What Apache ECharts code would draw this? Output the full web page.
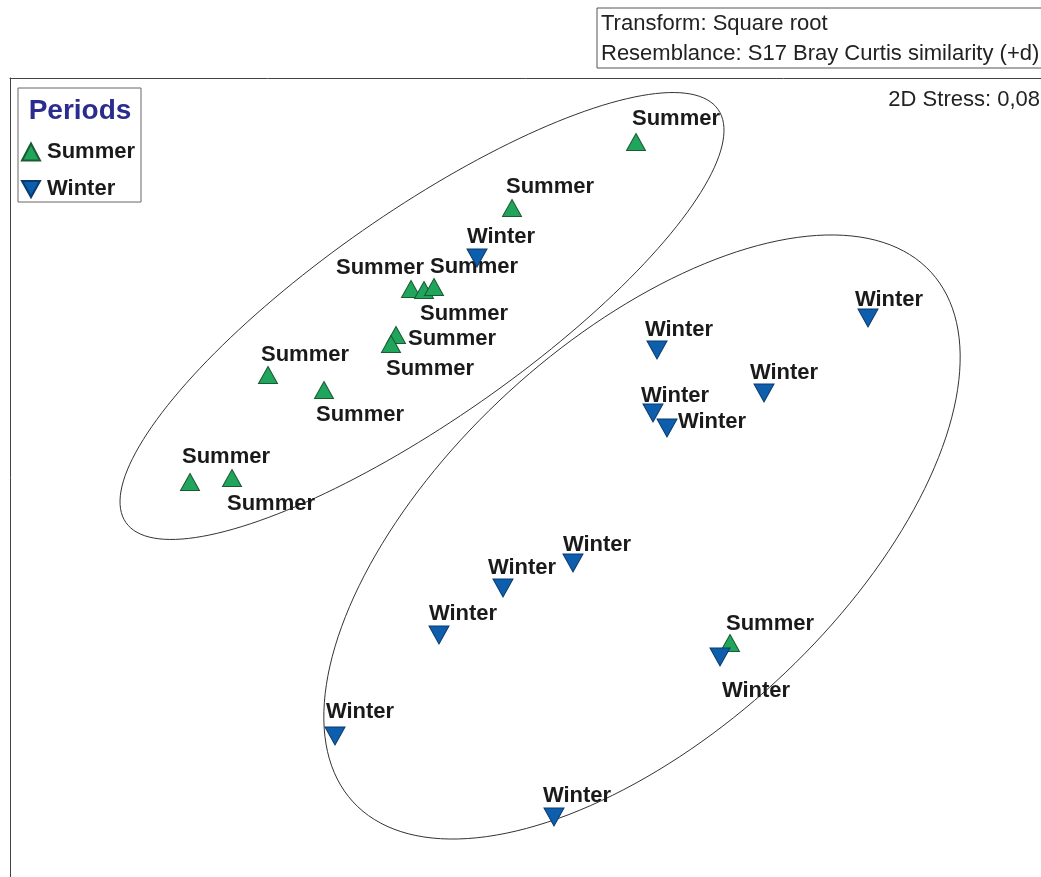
<!DOCTYPE html>
<html>
<head>
<meta charset="utf-8">
<title>nMDS Periods</title>
<script src="https://cdn.jsdelivr.net/npm/echarts@6/dist/echarts.min.js"></script>
<style>
  html, body { margin: 0; padding: 0; background: #fff; }
  #chart { width: 1041px; height: 877px; }
</style>
</head>
<body>
<div id="chart"></div>
<script>
// nMDS ordination coordinates
const summerX = [1.06, -0.18, -1.19, -1.06, -0.96, -1.34, -1.39, -2.62, -2.06, -3.40, -2.98, 2.00];
const summerY = [3.86, 3.20, 2.39, 2.38, 2.41, 1.93, 1.84, 1.53, 1.38, 0.46, 0.50, -1.15];
const winterX = [-0.53, 3.38, 1.27, 2.34, 1.23, 1.37, 0.43, -0.27, -0.91, 1.90, -1.95, 0.24];
const winterY = [2.70, 2.10, 1.78, 1.35, 1.15, 1.00, -0.35, -0.60, -1.07, -1.29, -2.08, -2.89];

// group outlines: centre, semi axes, rotation (deg)
const ellipseCenters = [[-1.08, 2.12], [1.12, -0.09]];
const ellipseAxes = [[3.61, 1.04], [3.92, 1.97]];
const ellipseAngles = [34.9, 42.5];

const periods = ['Summer', 'Winter'];

// where each sample label sits relative to its marker (px)
const summerLabelShift = [[40, -23], [38, -21], [-31, -21], [40, 24], [40, -20], [56, 4], [39, 25], [37, -20], [36, 25], [36, -25], [39, 26], [40, -19]];
const winterLabelShift = [[24, -21], [21, -18], [22, -20], [20, -20], [22, -17], [45, -6], [24, -18], [19, -20], [24, -21], [36, 34], [25, -24], [23, -21]];

const FONT = '"Liberation Sans", Arial, sans-serif';
const downTri = 'path://M0,0L20,0L10,18Z';

const chart = echarts.init(document.getElementById('chart'));

const pointData = (xs, ys, shifts) => xs.map((x, i) => ({
  value: [x, ys[i]],
  label: { offset: shifts[i] }
}));

const sampleLabel = (name) => ({
  show: true,
  position: 'inside',
  formatter: name,
  fontFamily: FONT,
  fontWeight: 'bold',
  fontSize: 22,
  color: '#1a1a1a'
});

// only the left and top edges of the frame are inside the picture
const frameAxis = {
  type: 'value',
  axisLine: { show: true, onZero: false, lineStyle: { color: '#444', width: 1 } },
  axisTick: { show: false },
  axisLabel: { show: false },
  splitLine: { show: false }
};

const option = {
  backgroundColor: '#fff',
  animation: false,
  grid: {
    left: 10,
    top: 78,
    right: 0,
    bottom: 0
  },
  xAxis: Object.assign({ position: 'top', min: -5.2, max: 5.11 }, frameAxis),
  yAxis: Object.assign({ position: 'left', min: -3.49, max: 4.5 }, frameAxis),
  legend: {
    orient: 'vertical',
    left: 21,
    top: 141,
    itemWidth: 18,
    itemHeight: 17,
    itemGap: 15,
    padding: 0,
    selectedMode: false,
    data: periods,
    textStyle: { fontFamily: FONT, fontWeight: 'bold', fontSize: 22, color: '#1a1a1a', padding: [0, 0, 0, 2] }
  },
  graphic: [
    {
      type: 'rect',
      shape: { x: 597, y: 8, width: 460, height: 60 },
      style: { fill: '#fff', stroke: '#555', lineWidth: 1 }
    },
    {
      type: 'text',
      x: 601, y: 24,
      style: { text: 'Transform: Square root', font: '22px ' + FONT, fill: '#222', verticalAlign: 'middle' }
    },
    {
      type: 'text',
      x: 601, y: 54,
      style: { text: 'Resemblance: S17 Bray Curtis similarity (+d)', font: '22px ' + FONT, fill: '#222', verticalAlign: 'middle' }
    },
    {
      type: 'text',
      x: 1040, y: 100,
      style: { text: '2D Stress: 0,08', font: '22px ' + FONT, fill: '#222', align: 'right', verticalAlign: 'middle' }
    },
    {
      type: 'rect',
      shape: { x: 18, y: 88, width: 123, height: 114 },
      style: { fill: 'none', stroke: '#666', lineWidth: 1 }
    },
    {
      type: 'text',
      x: 80, y: 111,
      style: { text: 'Periods', font: 'bold 28px ' + FONT, fill: '#2b2d8e', align: 'center', verticalAlign: 'middle' }
    }
  ],
  series: [
    {
      type: 'custom',
      name: 'outline',
      silent: true,
      z: 1,
      encode: { x: 0, y: 1 },
      data: ellipseCenters.map((c, i) => [c[0], c[1], ellipseAxes[i][0], ellipseAxes[i][1], ellipseAngles[i]]),
      renderItem: function (params, api) {
        const cx = api.value(0), cy = api.value(1);
        const a = api.value(2), b = api.value(3);
        const ang = api.value(4) * Math.PI / 180;
        const pts = [];
        for (let k = 0; k < 180; k++) {
          const t = k / 180 * Math.PI * 2;
          const ex = a * Math.cos(t), ey = b * Math.sin(t);
          pts.push(api.coord([
            cx + ex * Math.cos(ang) - ey * Math.sin(ang),
            cy + ex * Math.sin(ang) + ey * Math.cos(ang)
          ]));
        }
        return {
          type: 'polygon',
          shape: { points: pts },
          style: { fill: 'none', stroke: '#333', lineWidth: 1 }
        };
      }
    },
    {
      type: 'scatter',
      name: 'Summer',
      z: 2,
      symbol: 'triangle',
      symbolSize: [19, 17],
      itemStyle: { color: '#1fa65c', borderColor: '#1c5a33', borderWidth: 1, opacity: 1 },
      label: sampleLabel('Summer'),
      emphasis: { disabled: true },
      data: pointData(summerX, summerY, summerLabelShift)
    },
    {
      type: 'scatter',
      name: 'Winter',
      z: 3,
      symbol: downTri,
      symbolSize: [20, 18],
      itemStyle: { color: '#0d5fae', borderColor: '#0b3a6e', borderWidth: 1, opacity: 1 },
      label: sampleLabel('Winter'),
      emphasis: { disabled: true },
      data: pointData(winterX, winterY, winterLabelShift)
    }
  ]
};

chart.setOption(option);
</script>
</body>
</html>
